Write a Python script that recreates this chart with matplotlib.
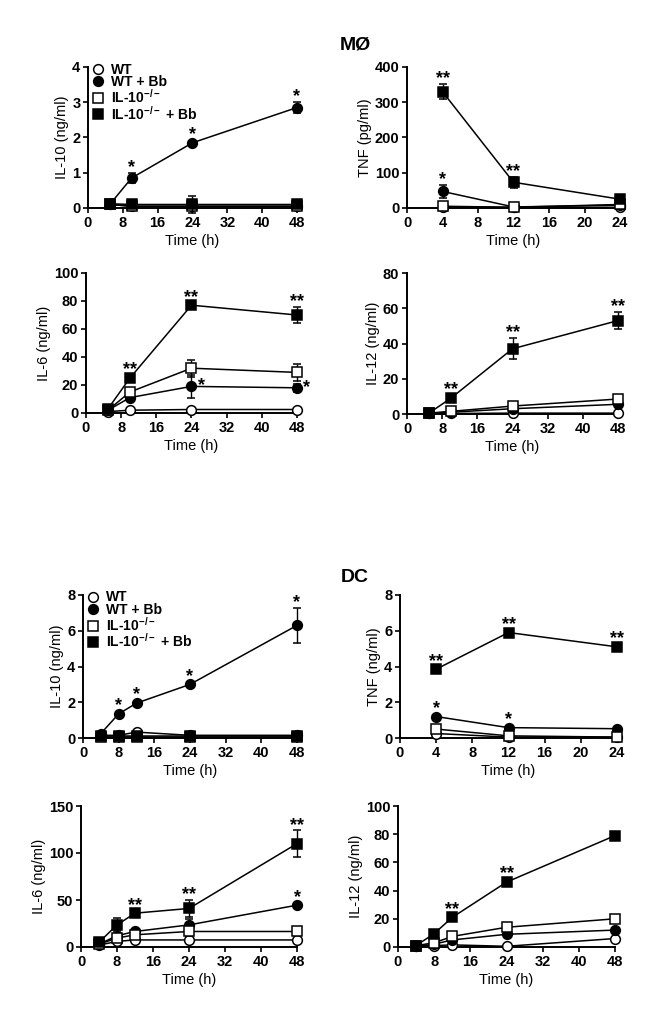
import matplotlib
matplotlib.use("Agg")
import matplotlib.pyplot as plt
from matplotlib.lines import Line2D

plt.rcParams['font.family'] = ['Liberation Sans', 'DejaVu Sans']
plt.rcParams['font.weight'] = 'bold'
plt.rcParams['mathtext.fontset'] = 'custom'
plt.rcParams['mathtext.rm'] = 'Liberation Sans:bold'
plt.rcParams['mathtext.default'] = 'rm'

# legend labels (WT, WT + Bb, IL-10-/-, IL-10-/- + Bb)
labels = ["WT", "WT + Bb", "IL-10$^{-/-}$", "IL-10$^{-/-}$ + Bb"]

# time points
mo_t48 = [5, 10, 24, 48]
mo_t24 = [4, 12, 24]
dc_t48 = [4, 8, 12, 24, 48]
dc_t24 = [4, 12, 24]

# --- macrophages (MØ) ---
mo_il10_wt = [0.1, 0.05, 0.05, 0.05]
mo_il10_wtbb = [0.1, 0.85, 1.85, 2.85]
mo_il10_wtbb_err = [0, 0.15, 0.05, 0.15]
mo_il10_ko = [0.1, 0.05, 0.05, 0.05]
mo_il10_kobb = [0.12, 0.1, 0.1, 0.1]
mo_il10_kobb_err = [0, 0, 0.25, 0]

mo_tnf_wt = [3, 2, 2]
mo_tnf_wtbb = [47, 3, 8]
mo_tnf_wtbb_err = [18, 0, 0]
mo_tnf_ko = [5, 2, 10]
mo_tnf_kobb = [330, 73, 25]
mo_tnf_kobb_err = [22, 15, 5]

mo_il6_wt = [1, 2, 2.5, 2.5]
mo_il6_wtbb = [2, 11, 19, 18]
mo_il6_wtbb_err = [0, 1, 8, 3]
mo_il6_ko = [2, 15, 32, 29]
mo_il6_ko_err = [0, 1, 6, 6]
mo_il6_kobb = [3, 25, 77, 70]
mo_il6_kobb_err = [0, 1, 2, 6]

mo_il12_wt = [0.3, 0.3, 0.5, 0.5]
mo_il12_wtbb = [0.5, 1, 3, 5.5]
mo_il12_ko = [0.5, 1.5, 4.5, 8.5]
mo_il12_kobb = [0.5, 9, 37, 53]
mo_il12_kobb_err = [0, 1, 6, 5]

# --- dendritic cells (DC) ---
dc_il10_wt = [0.15, 0.15, 0.33, 0.15, 0.15]
dc_il10_wtbb = [0.25, 1.35, 1.95, 3.0, 6.3]
dc_il10_wtbb_err = [0, 0.05, 0.05, 0.05, 1.0]
dc_il10_ko = [0.05, 0.05, 0.05, 0.05, 0.05]
dc_il10_kobb = [0.1, 0.1, 0.1, 0.1, 0.1]

dc_tnf_wt = [0.25, 0.05, 0.05]
dc_tnf_wtbb = [1.2, 0.58, 0.52]
dc_tnf_ko = [0.5, 0.12, 0.05]
dc_tnf_kobb = [3.85, 5.9, 5.1]

dc_il6_wt = [2, 6, 7.5, 7.5, 7.5]
dc_il6_wtbb = [3, 12, 16.5, 23.5, 44.5]
dc_il6_wtbb_err = [0, 1, 1, 6, 1]
dc_il6_ko = [3, 9.5, 13, 16.5, 16.5]
dc_il6_ko_err = [0, 1, 1, 5, 1]
dc_il6_kobb = [5, 23.5, 36, 41, 110]
dc_il6_kobb_err = [0, 7, 1, 9, 14]

dc_il12_wt = [0.5, 1, 1.5, 0.5, 6]
dc_il12_wtbb = [0.5, 2, 5, 9, 12]
dc_il12_ko = [1, 3, 7.5, 14, 20]
dc_il12_kobb = [1, 9.5, 21, 46, 79]

# significance marks: (series index, time index, text, side)
mo_il10_stars = [(1, 1, "*", "top"), (1, 2, "*", "top"), (1, 3, "*", "top")]
mo_tnf_stars = [(3, 0, "**", "top"), (3, 1, "**", "top"), (1, 0, "*", "top")]
mo_il6_stars = [(3, 1, "**", "top"), (3, 2, "**", "top"), (3, 3, "**", "top"),
                (1, 2, "*", "right"), (1, 3, "*", "right")]
mo_il12_stars = [(3, 1, "**", "top"), (3, 2, "**", "top"), (3, 3, "**", "top")]
dc_il10_stars = [(1, 1, "*", "top"), (1, 2, "*", "top"), (1, 3, "*", "top"), (1, 4, "*", "top")]
dc_tnf_stars = [(3, 0, "**", "top"), (3, 1, "**", "top"), (3, 2, "**", "top"),
                (1, 0, "*", "top"), (1, 1, "*", "top")]
dc_il6_stars = [(3, 2, "**", "top"), (3, 3, "**", "top"), (3, 4, "**", "top"), (1, 4, "*", "top")]
dc_il12_stars = [(3, 2, "**", "top"), (3, 3, "**", "top")]

W, H = 659, 1029
fig = plt.figure(figsize=(W / 100, H / 100), dpi=100)


def px_rect(x0, x1, ytop, ybot):
    return [x0 / W, 1 - ybot / H, (x1 - x0) / W, (ybot - ytop) / H]


styles = [dict(marker='o', mfc='white'), dict(marker='o', mfc='black'),
          dict(marker='s', mfc='white'), dict(marker='s', mfc='black')]
MS = 7
STAR_FS = 13

panels = [
    (px_rect(88, 297, 67, 208), mo_t48, [mo_il10_wt, mo_il10_wtbb, mo_il10_ko, mo_il10_kobb],
     [None, mo_il10_wtbb_err, None, mo_il10_kobb_err], 4, 1, "IL-10 (ng/ml)", mo_il10_stars, True),
    (px_rect(407, 620, 67, 208), mo_t24, [mo_tnf_wt, mo_tnf_wtbb, mo_tnf_ko, mo_tnf_kobb],
     [None, mo_tnf_wtbb_err, None, mo_tnf_kobb_err], 400, 100, "TNF (pg/ml)", mo_tnf_stars, False),
    (px_rect(86, 297, 273, 413), mo_t48, [mo_il6_wt, mo_il6_wtbb, mo_il6_ko, mo_il6_kobb],
     [None, mo_il6_wtbb_err, mo_il6_ko_err, mo_il6_kobb_err], 100, 20, "IL-6 (ng/ml)", mo_il6_stars, False),
    (px_rect(407, 618, 273, 414), mo_t48, [mo_il12_wt, mo_il12_wtbb, mo_il12_ko, mo_il12_kobb],
     [None, None, None, mo_il12_kobb_err], 80, 20, "IL-12 (ng/ml)", mo_il12_stars, False),
    (px_rect(83, 297, 595, 738), dc_t48, [dc_il10_wt, dc_il10_wtbb, dc_il10_ko, dc_il10_kobb],
     [None, dc_il10_wtbb_err, None, None], 8, 2, "IL-10 (ng/ml)", dc_il10_stars, True),
    (px_rect(400, 617, 595, 738), dc_t24, [dc_tnf_wt, dc_tnf_wtbb, dc_tnf_ko, dc_tnf_kobb],
     [None, None, None, None], 8, 2, "TNF (ng/ml)", dc_tnf_stars, False),
    (px_rect(81, 297, 806, 947), dc_t48, [dc_il6_wt, dc_il6_wtbb, dc_il6_ko, dc_il6_kobb],
     [None, dc_il6_wtbb_err, dc_il6_ko_err, dc_il6_kobb_err], 150, 50, "IL-6 (ng/ml)", dc_il6_stars, False),
    (px_rect(398, 615, 806, 947), dc_t48, [dc_il12_wt, dc_il12_wtbb, dc_il12_ko, dc_il12_kobb],
     [None, None, None, None], 100, 20, "IL-12 (ng/ml)", dc_il12_stars, False),
]

for rect, t, series, errs, ymax, ystep, ylab, stars, show_leg in panels:
    ax = fig.add_axes(rect)
    tmax = t[-1]
    ax.set_xlim(0, 48 if tmax == 48 else 24)
    ax.set_ylim(0, ymax)
    for i, (vals, err) in enumerate(zip(series, errs)):
        ax.errorbar(t, vals, yerr=err, color='black', lw=1.1, ms=MS, mec='black', mew=1.1,
                    capsize=3, elinewidth=1.0, capthick=1.0, clip_on=False, zorder=3 + i,
                    **styles[i])
    # points per data unit on the y axis
    pt_per_unit = (rect[3] * H * 0.72) / ymax
    glyph_mid = 0.38 * STAR_FS
    for si, ti, txt, side in stars:
        v = series[si][ti]
        e = errs[si][ti] if errs[si] is not None else 0
        if side == "top":
            above = max(e * pt_per_unit + 5.5, 7.5)
            ax.annotate(txt, (t[ti], v), xytext=(0, above - glyph_mid), textcoords='offset points',
                        ha='center', va='baseline', fontsize=STAR_FS, annotation_clip=False)
        else:
            ax.annotate(txt, (t[ti], v), xytext=(4.5, 2.0 - glyph_mid), textcoords='offset points',
                        ha='left', va='baseline', fontsize=STAR_FS, annotation_clip=False)
    ax.set_xticks(range(0, 49, 8) if tmax == 48 else range(0, 25, 4))
    ax.set_yticks([k * ystep for k in range(int(round(ymax / ystep)) + 1)])
    for s in ['top', 'right']:
        ax.spines[s].set_visible(False)
    for s in ['left', 'bottom']:
        ax.spines[s].set_linewidth(1.4)
    ax.tick_params(direction='out', length=3.5, width=1.2, labelsize=10.5, pad=2)
    ax.set_xlabel("Time (h)", fontsize=10.5, labelpad=3)
    ax.set_ylabel(ylab, fontsize=10.5, labelpad=2)
    if show_leg:
        handles = [Line2D([], [], ls='none', color='black', mec='black', mew=1.1, ms=MS, **st)
                   for st in styles]
        ax.legend(handles, labels, loc='upper left', bbox_to_anchor=(-0.01, 1.09), frameon=False,
                  fontsize=10, handlelength=0.6, handletextpad=0.6, labelspacing=-0.1,
                  borderaxespad=0.2)

fig.text(355 / W, 1 - 45 / H, "MØ", ha='center', va='center', fontsize=14, fontweight='bold')
fig.text(355 / W, 1 - 577 / H, "DC", ha='center', va='center', fontsize=14, fontweight='bold')

fig.savefig("out.png", dpi=100)
